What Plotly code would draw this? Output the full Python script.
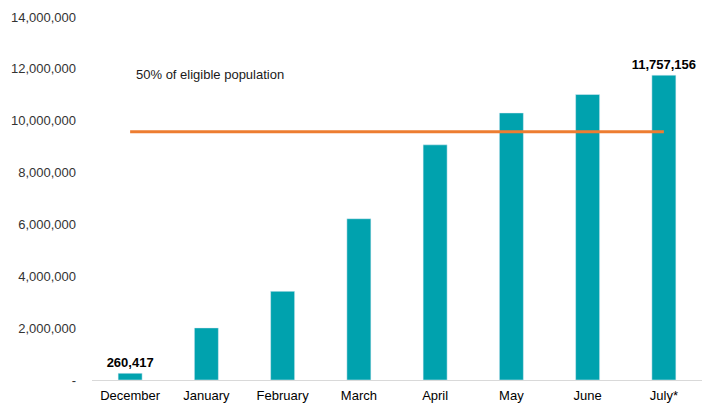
import plotly.graph_objects as go

months = ["December", "January", "February", "March", "April", "May", "June", "July*"]
doses = [260417, 2010000, 3420000, 6220000, 9070000, 10300000, 11010000, 11757156]
labelled = [True, False, False, False, False, False, False, True]
threshold = 9570000
threshold_label = "50% of eligible population"
tick_vals = [0, 2000000, 4000000, 6000000, 8000000, 10000000, 12000000, 14000000]
tick_text = ["-"] + [f"{v:,}" for v in tick_vals[1:]]

bar_text = [f"<b>{v:,}</b>" if show else "" for v, show in zip(doses, labelled)]

fig = go.Figure()
fig.add_trace(go.Bar(
    x=months, y=doses, text=bar_text, textposition="outside", constraintext="none",
    textfont=dict(family="Liberation Sans, Arial", size=13, color="black"),
    marker=dict(color="#00A2AE"), cliponaxis=False, hoverinfo="skip",
))
fig.add_trace(go.Scatter(
    x=[months[0], months[-1]], y=[threshold, threshold], mode="lines",
    line=dict(color="#ED7D31", width=3), hoverinfo="skip",
))
fig.add_annotation(
    x=months[0], y=11780000, xref="x", yref="y", text=threshold_label,
    showarrow=False, xanchor="left", xshift=4,
    font=dict(family="Liberation Sans, Arial", size=13, color="#1a1a1a"),
)
fig.update_layout(
    width=702, height=404, showlegend=False, bargap=0.685,
    margin=dict(l=92, r=0, t=17, b=24),
    plot_bgcolor="white", paper_bgcolor="white",
    font=dict(family="Liberation Sans, Arial", size=13, color="#333333"),
)
fig.update_xaxes(showline=True, linecolor="#D9D9D9", linewidth=1, showgrid=False,
                 tickfont=dict(color="black", size=13), ticks="", ticklabelstandoff=3)
fig.update_yaxes(range=[0, 14000000], tickvals=tick_vals, ticktext=tick_text,
                 showgrid=False, zeroline=False, showline=False,
                 ticklabelstandoff=15, tickfont=dict(size=13, color="#333333"))
fig.write_html("out.html", config={"displayModeBar": False},
               post_script="document.body.style.margin='0';")
